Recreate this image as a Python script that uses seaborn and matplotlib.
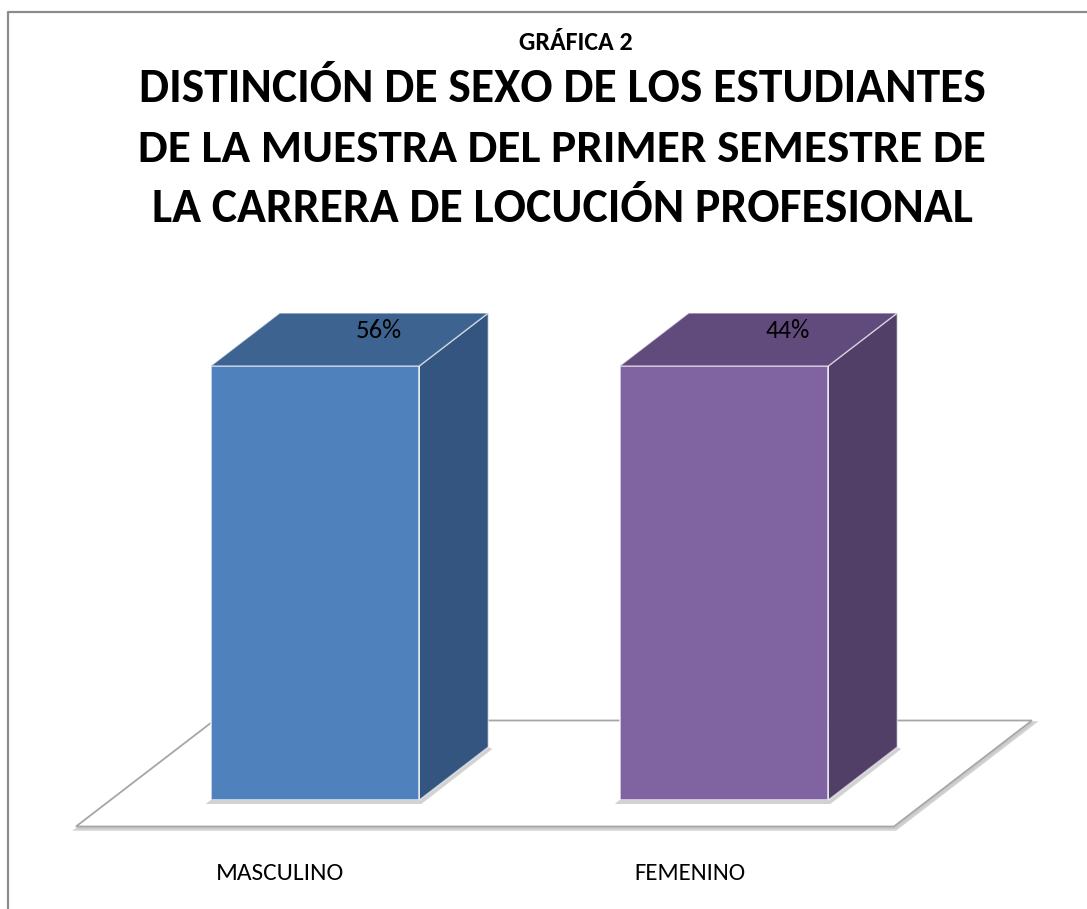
import numpy as np
import pandas as pd
import matplotlib
matplotlib.use("Agg")
import matplotlib.pyplot as plt
import matplotlib.transforms as mtransforms
from matplotlib.patches import Polygon
from matplotlib.lines import Line2D
from matplotlib import font_manager as fm
import seaborn as sns

# ---------------- data ----------------
categories = ["MASCULINO", "FEMENINO"]
percent_labels = ["56%", "44%"]
column_share = [100, 100]          # each category column is drawn at full height (100 %)
supertitle = "GRÁFICA 2"
title_lines = [
    "DISTINCIÓN DE SEXO DE LOS ESTUDIANTES",
    "DE LA MUESTRA DEL PRIMER SEMESTRE DE",
    "LA CARRERA DE LOCUCIÓN PROFESIONAL",
]

# ---------------- style ----------------
front_colors = ["#4F81BD", "#8064A2"]
side_colors = ["#34557F", "#523F67"]
top_colors = ["#3D6491", "#614A7C"]

W, H = 1087, 909
sns.set_theme(style="white")
avail = {f.name for f in fm.fontManager.ttflist}
family = next(f for f in ["Carlito", "Lato", "Open Sans", "DejaVu Sans"] if f in avail)
plt.rcParams["font.family"] = [family, "DejaVu Sans"]

fig = plt.figure(figsize=(W / 100, H / 100), dpi=100)
fig.patch.set_facecolor("white")
ax = fig.add_axes([110.5 / W, (H - 800) / H, 818 / W, 434 / H])
ax.patch.set_visible(False)

df = pd.DataFrame({"cat": categories, "share": column_share})
sns.barplot(data=df, x="cat", y="share", hue="cat", palette=front_colors,
            width=0.51, legend=False, ax=ax, saturation=1,
            edgecolor=(1, 1, 1, 0.75), linewidth=1.2, zorder=3)
ax.set_xlim(-0.5, len(categories) - 0.5)
ax.set_ylim(0, 100)
ax.axis("off")

ident = mtransforms.IdentityTransform()
dx, dy = 69, 53   # depth of the bars in pixels

# ---------------- floor ----------------
(xl, yb) = ax.transData.transform((ax.get_xlim()[0], 0))
(xr, _) = ax.transData.transform((ax.get_xlim()[1], 0))
floor = [(xl - 0.5 * dx, yb - 0.5 * dy), (xr - 0.5 * dx, yb - 0.5 * dy),
         (xr + 1.5 * dx, yb + 1.5 * dy), (xl + 1.5 * dx, yb + 1.5 * dy)]
shadow = [(x + 1.5, y - 2.5) for x, y in floor]
fig.add_artist(Polygon(shadow, closed=True, transform=ident, facecolor="#c8c8c8",
                       edgecolor="#c8c8c8", lw=2.5, zorder=-3, alpha=0.8))
fig.add_artist(Polygon(floor, closed=True, transform=ident, facecolor="white",
                       edgecolor="#a6a6a6", lw=1.3, zorder=-2))

# ---------------- 3-D faces ----------------
bars = sorted(ax.patches, key=lambda p: p.get_x())
for i, p in enumerate(bars):
    (x0, y0) = ax.transData.transform((p.get_x(), p.get_y()))
    (x1, y1) = ax.transData.transform((p.get_x() + p.get_width(), p.get_y() + p.get_height()))
    # base shadow
    sh = [(x0 - 5, y0 - 4), (x1 + 2, y0 - 4), (x1 + dx + 4, y0 + dy - 2), (x1 + dx, y0 + dy), (x0, y0)]
    ax.add_patch(Polygon(sh, closed=True, transform=ident, facecolor="#7f7f7f",
                         edgecolor="none", alpha=0.35, zorder=1.5, clip_on=False))
    side = [(x1, y0), (x1, y1), (x1 + dx, y1 + dy), (x1 + dx, y0 + dy)]
    top = [(x0, y1), (x1, y1), (x1 + dx, y1 + dy), (x0 + dx, y1 + dy)]
    ax.add_patch(Polygon(side, closed=True, transform=ident, facecolor=side_colors[i],
                         edgecolor=(1, 1, 1, 0.55), lw=1.0, zorder=2, clip_on=False))
    ax.add_patch(Polygon(top, closed=True, transform=ident, facecolor=top_colors[i],
                         edgecolor=(1, 1, 1, 0.6), lw=1.0, zorder=2.5, clip_on=False))

renderer = fig.canvas.get_renderer()


def fit_text(s, cx, baseline, width, weight="normal", size0=20):
    t = fig.text(cx, baseline, s, transform=ident, ha="center", va="baseline",
                 fontsize=size0, fontweight=weight, color="black")
    w = t.get_window_extent(renderer).width
    t.set_fontsize(size0 * width / w)
    return t


# data labels on the top faces
label_w = [46, 44]
for i, p in enumerate(bars):
    cx, ty = ax.transData.transform((p.get_x() + p.get_width() / 2, p.get_height()))
    fit_text(percent_labels[i], cx + 64, ty + 28, label_w[i])

# category labels at the floor front
cat_w = [128, 111]
for i, c in enumerate(categories):
    cx, _ = ax.transData.transform((i, 0))
    fit_text(c, cx - 0.5 * dx, H - 880, cat_w[i])

# titles
fit_text(supertitle, 576, H - 50, 114, weight="bold")
title_w = [847, 851, 823]
for k, line in enumerate(title_lines):
    fit_text(line, 562, H - (101.7 + 60 * k), title_w[k], weight="bold")

# outer frame (top and left edges visible)
fig.add_artist(Line2D([8, 8, W], [0, H - 12, H - 12], transform=ident,
                      color="#8c8c8c", lw=1.6))

fig.savefig("out.png", dpi=100, facecolor="white")
